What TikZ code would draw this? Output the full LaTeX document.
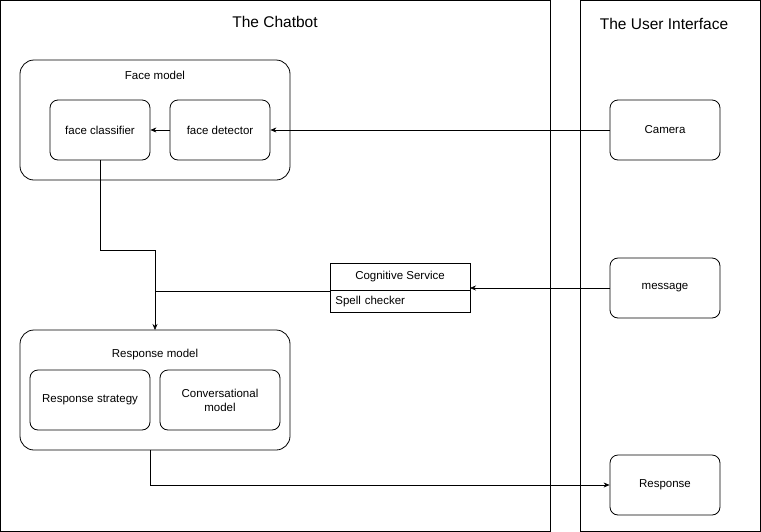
\documentclass[tikz,border=0pt]{standalone}
\usepackage{fontspec}
\setmainfont{Liberation Sans}
\usetikzlibrary{arrows.meta}
\begin{document}
\begin{tikzpicture}[x=1pt,y=-1pt,
  box/.style={draw,rounded corners=8pt,line width=0.8pt},
  cont/.style={draw,line width=0.8pt},
  lbl/.style={font=\fontsize{11.5}{14}\selectfont,align=center},
  ttl/.style={font=\fontsize{15.5}{18}\selectfont},
  arr/.style={-{Stealth[length=6pt,width=5pt]},line width=0.6pt}]
\useasboundingbox (0,0) rectangle (761,531);
\draw[cont] (0.5,0.5) rectangle (550,531);
\node[ttl] (t1) at (275,22) {The Chatbot};
\draw[cont] (580,0.5) rectangle (760,531);
\node[ttl] (t2) at (664,24) {The User Interface};
% face model
\draw[box,rounded corners=14pt] (20,60) rectangle (290,180);
\node[lbl] (fm) at (155,75) {Face model};
\node[box,minimum width=100pt,minimum height=60pt,lbl] (fc) at (100,130) {face classifier};
\node[box,minimum width=100pt,minimum height=60pt,lbl] (fd) at (220,130) {face detector};
% UI
\node[box,minimum width=110pt,minimum height=60pt,lbl] (cam) at (665,130) {Camera};
\node[box,minimum width=110pt,minimum height=60pt,lbl] (msg) at (665,288) {message};
\node[box,minimum width=110pt,minimum height=60pt,lbl] (resp) at (665,485) {Response};
% cognitive
\node[draw,line width=0.8pt,minimum width=140pt,minimum height=27pt,lbl] (cs) at (400,276.5) {Cognitive Service};
\node[draw,line width=0.8pt,minimum width=140pt,minimum height=22pt,lbl,anchor=north west,text width=130pt,align=left] (sp) at (330,290) {Spell checker};
% response model
\draw[box,rounded corners=14pt] (20,330) rectangle (290,450);
\node[lbl] (rm) at (155,355) {Response model};
\node[box,minimum width=120pt,minimum height=60pt,lbl] (rs) at (90,400) {Response strategy};
\node[box,minimum width=120pt,minimum height=60pt,lbl] (cm) at (220,400) {Conversational\\model};
\coordinate (rmtop) at (155,330);
\coordinate (rmbot) at (150,450);
\coordinate (j) at (155,291);
% arrows
\draw[arr] (cam.west) -- (fd.east);
\draw[arr] (fd.west) -- (fc.east);
\draw[arr] (fc.south) -- (100,250) -- (155,250) -- (rmtop);
\draw[line width=0.6pt] (330,291) -- (j);
\draw[arr] (msg.west) -- (470,288);
\draw[arr] (rmbot) -- (150,485) -- (resp.west);
\end{tikzpicture}
\end{document}
